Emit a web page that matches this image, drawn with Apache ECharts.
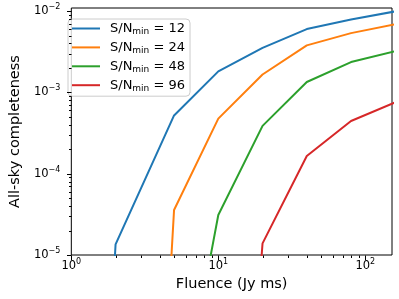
<!DOCTYPE html>
<html>
<head>
<meta charset="utf-8">
<script src="https://cdn.jsdelivr.net/npm/echarts@6/dist/echarts.min.js"></script>
<style>html,body{margin:0;padding:0;background:#fff}#c{width:399px;height:299px}</style>
</head>
<body>
<div id="c"></div>
<script>
// ---- data ----
const fluence = [1, 2, 5, 10, 20, 40, 80, 160];
const snThresholds = [12, 24, 48, 96];
const compSN12 = [1.5e-15, 1.35e-5, 5.2e-4, 1.81e-3, 3.53e-3, 6.0e-3, 7.87e-3, 9.9e-3];
const compSN24 = [null, 1e-17, 3.57e-5, 4.75e-4, 1.66e-3, 3.78e-3, 5.35e-3, 6.9e-3];
const compSN48 = [null, null, 4e-8, 3.1e-5, 3.87e-4, 1.34e-3, 2.36e-3, 3.2e-3];
const compSN96 = [null, null, null, 8e-13, 1.39e-5, 1.65e-4, 4.45e-4, 7.55e-4];
const seriesValues = [compSN12, compSN24, compSN48, compSN96];
const colors = ['#1f77b4', '#ff7f0e', '#2ca02c', '#d62728'];

const xMin = 1, xMax = 152;
const yMin = 1e-5, yMax = 0.0109;
const xMajorTicks = [1, 10, 100];
const xMinorTicks = [2, 3, 4, 5, 6, 7, 8, 9, 20, 30, 40, 50, 60, 70, 80, 90];
const yMajorTicks = [1e-5, 1e-4, 1e-3, 1e-2];
const yMinorTicks = [2e-5, 3e-5, 4e-5, 5e-5, 6e-5, 7e-5, 8e-5, 9e-5,
                     2e-4, 3e-4, 4e-4, 5e-4, 6e-4, 7e-4, 8e-4, 9e-4,
                     2e-3, 3e-3, 4e-3, 5e-3, 6e-3, 7e-3, 8e-3, 9e-3];

const FONT = 'DejaVu Sans';
const names = snThresholds.map(s => 'S/N_min = ' + s);

function powLabel(v) {
  const e = Math.log10(v);
  if (Math.abs(e - Math.round(e)) > 1e-6) return '';
  const r = Math.round(e);
  return '{a|10}{sup|' + (r < 0 ? '\u2212' + (-r) : r) + '}';
}
const labelRich = {
  a: {fontFamily: FONT, fontSize: 11.5, lineHeight: 16, color: '#000'},
  sup: {fontFamily: FONT, fontSize: 8, verticalAlign: 'top', color: '#000'}
};

function tickSeries(values, isX, len) {
  return {
    type: 'custom',
    silent: true,
    clip: false,
    z: 10,
    data: values.map(v => isX ? [v, yMin] : [xMin, v]),
    renderItem: function (params, api) {
      const p = api.coord([api.value(0), api.value(1)]);
      const x = Math.round(p[0]) + 0.5, y = Math.round(p[1]) + 0.5;
      return {
        type: 'line',
        shape: isX ? {x1: x, y1: y, x2: x, y2: y + len} : {x1: x - len, y1: y, x2: x, y2: y},
        style: {stroke: '#000', lineWidth: 1}
      };
    }
  };
}

const lineSeries = seriesValues.map((vals, i) => ({
  name: names[i],
  type: 'line',
  symbol: 'none',
  showSymbol: false,
  data: fluence.map((f, j) => [f, vals[j]]),
  lineStyle: {color: colors[i], width: 2},
  itemStyle: {color: colors[i]},
  clip: true
}));

const chart = echarts.init(document.getElementById('c'), null, {renderer: 'canvas'});
chart.setOption({
  animation: false,
  backgroundColor: '#fff',
  grid: {left: 62, right: 7, top: 8, bottom: 44, show: true, borderColor: '#000', borderWidth: 1, backgroundColor: 'transparent'},
  xAxis: {
    type: 'log', logBase: 10, min: xMin, max: xMax,
    name: 'Fluence (Jy ms)', nameLocation: 'middle', nameGap: 20,
    nameTextStyle: {fontFamily: FONT, fontSize: 14.5, color: '#000'},
    axisLine: {show: false}, axisTick: {show: false}, splitLine: {show: false}, minorTick: {show: false},
    axisLabel: {formatter: powLabel, rich: labelRich, margin: 3, showMaxLabel: false}
  },
  yAxis: {
    type: 'log', logBase: 10, min: yMin, max: yMax,
    name: 'All-sky completeness', nameLocation: 'middle', nameGap: 40,
    nameTextStyle: {fontFamily: FONT, fontSize: 14.5, color: '#000'},
    axisLine: {show: false}, axisTick: {show: false}, splitLine: {show: false}, minorTick: {show: false},
    axisLabel: {formatter: powLabel, rich: labelRich, margin: 11, showMaxLabel: false}
  },
  legend: {
    orient: 'vertical', left: 68, top: 19,
    padding: [3, 5, 3, 4], itemGap: 4.4, itemWidth: 28, itemHeight: 2,
    icon: 'rect',
    backgroundColor: 'rgba(255,255,255,0.8)', borderColor: '#cccccc', borderWidth: 1, borderRadius: 4,
    data: names,
    formatter: function (n) {
      const v = n.split('= ')[1];
      return '{a|S/N}{sub|min}{b| = ' + v + '}';
    },
    textStyle: {
      rich: {
        a: {fontFamily: FONT, fontSize: 13, lineHeight: 16, color: '#000', padding: [0, 0, 0, 5]},
        sub: {fontFamily: FONT, fontSize: 9, verticalAlign: 'bottom', color: '#000'},
        b: {fontFamily: FONT, fontSize: 13, lineHeight: 16, color: '#000'}
      }
    }
  },
  series: lineSeries.concat([
    tickSeries(xMajorTicks, true, 4.5),
    tickSeries(xMinorTicks, true, 2.5),
    tickSeries(yMajorTicks, false, 4.5),
    tickSeries(yMinorTicks, false, 2.5)
  ])
});
</script>
</body>
</html>
